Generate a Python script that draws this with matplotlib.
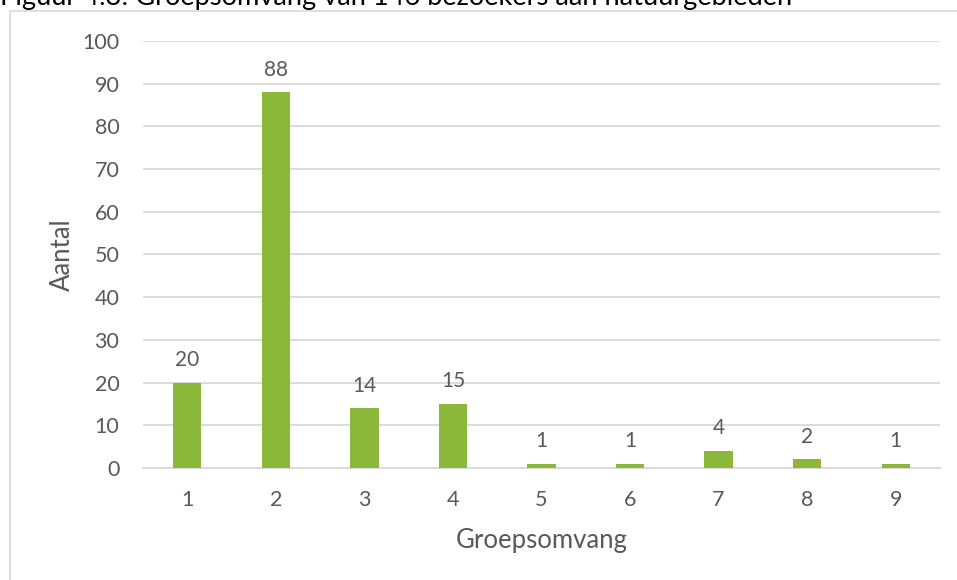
import matplotlib.pyplot as plt
from matplotlib.patches import Rectangle

groepsomvang = ['1', '2', '3', '4', '5', '6', '7', '8', '9']
aantal = [20, 88, 14, 15, 1, 1, 4, 2, 1]
yticks = [0, 10, 20, 30, 40, 50, 60, 70, 80, 90, 100]

plt.rcParams['font.family'] = ['Lato', 'DejaVu Sans']
grey = '#595959'
green = '#8cb83a'

fig = plt.figure(figsize=(9.57, 5.8), dpi=100)
ax = fig.add_axes([143 / 957, 1 - 468 / 580, (940 - 143) / 957, (468 - 41) / 580])

# chart frame (runs off the right and bottom edges)
fig.patches.append(Rectangle((10 / 957, -0.1), 1.2, 1.1 - 11 / 580,
                             transform=fig.transFigure, fill=False,
                             edgecolor='#d9d9d9', linewidth=1.2))

x = range(1, len(groepsomvang) + 1)
ax.bar(x, aantal, width=0.32, color=green, zorder=3)
for xi, v in zip(x, aantal):
    ax.annotate(str(v), (xi, v), xytext=(0, 9), textcoords='offset points',
                ha='center', va='bottom', fontsize=15, color=grey)

ax.set_xlim(0.5, 9.5)
ax.set_ylim(0, 100)
ax.set_yticks(yticks)
ax.set_xticks(list(x))
ax.set_xticklabels(groepsomvang)
ax.tick_params(axis='both', length=0, labelsize=15.5, labelcolor=grey)
ax.tick_params(axis='x', pad=16)
ax.tick_params(axis='y', pad=17)
ax.grid(axis='y', color='#d9d9d9', linewidth=1.3, zorder=0)
for s in ['top', 'right', 'left']:
    ax.spines[s].set_visible(False)
ax.spines['bottom'].set_color('#d9d9d9')
ax.spines['bottom'].set_linewidth(1.3)

ax.set_xlabel('Groepsomvang', fontsize=18.5, color=grey, labelpad=13)
ax.set_ylabel('Aantal', fontsize=18.5, color=grey, labelpad=5)

fig.text(0.0, 1 - 5 / 580, 'Figuur 4.3: Groepsomvang van 146 bezoekers aan natuurgebieden',
         fontsize=19.6, color='black', ha='left', va='baseline')

fig.savefig('out.png', dpi=100, facecolor='white')
